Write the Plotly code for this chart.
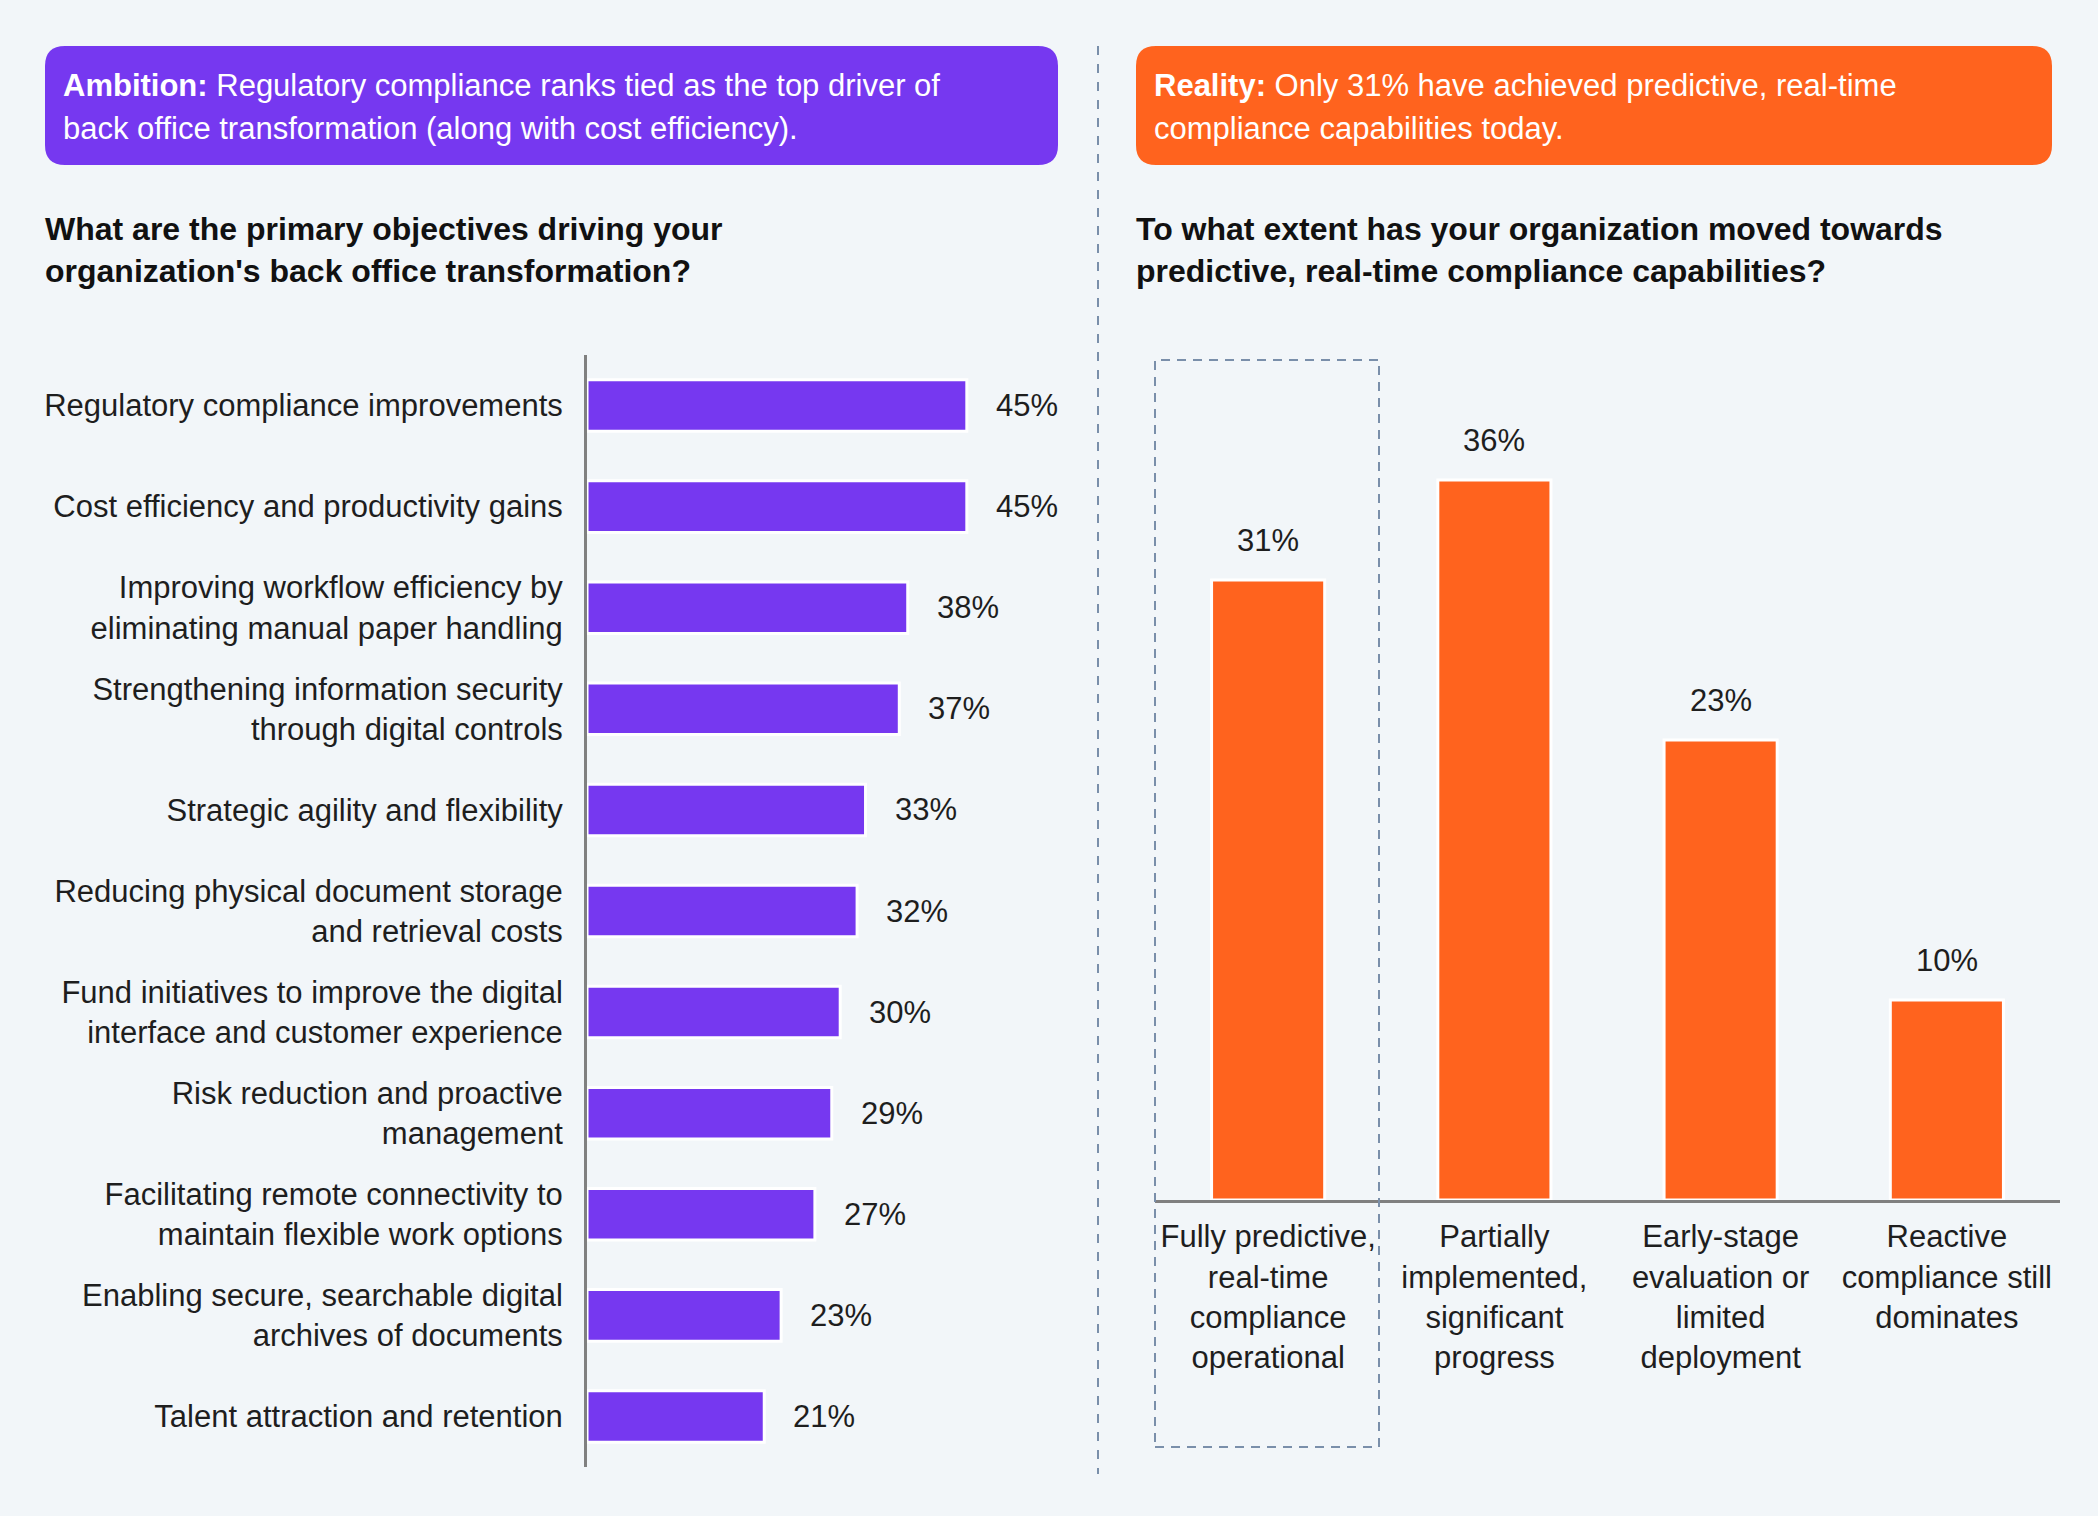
import plotly.graph_objects as go

W, H = 2098, 1516

# ---------------- data ----------------
left_categories = [
    "Regulatory compliance improvements",
    "Cost efficiency and productivity gains",
    "Improving workflow efficiency by<br>eliminating manual paper handling",
    "Strengthening information security<br>through digital controls",
    "Strategic agility and flexibility",
    "Reducing physical document storage<br>and retrieval costs",
    "Fund initiatives to improve the digital<br>interface and customer experience",
    "Risk reduction and proactive<br>management",
    "Facilitating remote connectivity to<br>maintain flexible work options",
    "Enabling secure, searchable digital<br>archives of documents",
    "Talent attraction and retention",
]
left_values = [45, 45, 38, 37, 33, 32, 30, 29, 27, 23, 21]

right_categories = [
    "Fully predictive,<br>real-time<br>compliance<br>operational",
    "Partially<br>implemented,<br>significant<br>progress",
    "Early-stage<br>evaluation or<br>limited<br>deployment",
    "Reactive<br>compliance still<br>dominates",
]
right_values = [31, 36, 23, 10]

ambition_lines = ["<b>Ambition:</b> Regulatory compliance ranks tied as the top driver of",
                  "back office transformation (along with cost efficiency)."]
reality_lines = ["<b>Reality:</b> Only 31% have achieved predictive, real-time",
                 "compliance capabilities today."]
left_title = ("<b>What are the primary objectives driving your<br>"
              "organization's back office transformation?</b>")
right_title = ("<b>To what extent has your organization moved towards<br>"
               "predictive, real-time compliance capabilities?</b>")

# ---------------- style ----------------
BG = "#F2F6F9"
PURPLE = "#7638F0"
ORANGE = "#FF631E"
GRAY = "#808080"
DASH = "#7A8FAA"
TEXT = "#1E1E1E"
FONT = "Liberation Sans, Arial, Helvetica, sans-serif"
FS = 31


def px(x):
    return x / W


def py(y):
    return 1 - y / H


fig = go.Figure()

fig.add_trace(go.Bar(
    x=left_values, y=left_categories, orientation="h",
    marker=dict(color=PURPLE, line=dict(color="white", width=3)),
    width=0.51, xaxis="x", yaxis="y", hoverinfo="skip", showlegend=False,
))
fig.add_trace(go.Bar(
    x=right_categories, y=right_values,
    marker=dict(color=ORANGE, line=dict(color="white", width=3)),
    width=0.5, xaxis="x2", yaxis="y2", hoverinfo="skip", showlegend=False,
))

annotations = []
for c, v in zip(left_categories, left_values):
    annotations.append(dict(
        x=v, y=c, xref="x", yref="y", text=f"{v}%", showarrow=False,
        xanchor="left", yanchor="middle", xshift=27,
        font=dict(family=FONT, size=FS, color=TEXT),
    ))
for c, v in zip(right_categories, right_values):
    annotations.append(dict(
        x=c, y=v, xref="x2", yref="y2", text=f"{v}%", showarrow=False,
        xanchor="center", yanchor="middle", yshift=40,
        font=dict(family=FONT, size=FS, color=TEXT),
    ))

# header box texts (one annotation per line)
for i, line in enumerate(ambition_lines):
    annotations.append(dict(
        x=px(61), y=py(86 + 43 * i), xref="paper", yref="paper", text=line,
        showarrow=False, xanchor="left", yanchor="middle", align="left",
        font=dict(family=FONT, size=FS, color="white"),
    ))
for i, line in enumerate(reality_lines):
    annotations.append(dict(
        x=px(1152), y=py(86 + 43 * i), xref="paper", yref="paper", text=line,
        showarrow=False, xanchor="left", yanchor="middle", align="left",
        font=dict(family=FONT, size=FS, color="white"),
    ))
# titles
annotations.append(dict(
    x=px(43), y=py(250), xref="paper", yref="paper", text=left_title,
    showarrow=False, xanchor="left", yanchor="middle", align="left",
    font=dict(family=FONT, size=32, color="#111111"),
))
annotations.append(dict(
    x=px(1134), y=py(250), xref="paper", yref="paper", text=right_title,
    showarrow=False, xanchor="left", yanchor="middle", align="left",
    font=dict(family=FONT, size=32, color="#111111"),
))


def rounded_rect(x0, y0, x1, y1, r):
    X0, X1 = px(x0), px(x1)
    Y0, Y1 = py(y0), py(y1)
    rx, ry = r / W, r / H
    return (f"M {X0+rx},{Y0} L {X1-rx},{Y0} Q {X1},{Y0} {X1},{Y0-ry} "
            f"L {X1},{Y1+ry} Q {X1},{Y1} {X1-rx},{Y1} "
            f"L {X0+rx},{Y1} Q {X0},{Y1} {X0},{Y1+ry} "
            f"L {X0},{Y0-ry} Q {X0},{Y0} {X0+rx},{Y0} Z")


shapes = [
    dict(type="path", xref="paper", yref="paper",
         path=rounded_rect(45, 46, 1058, 165, 20),
         fillcolor=PURPLE, line=dict(width=0), layer="below"),
    dict(type="path", xref="paper", yref="paper",
         path=rounded_rect(1136, 46, 2052, 165, 20),
         fillcolor=ORANGE, line=dict(width=0), layer="below"),
    # divider
    dict(type="line", xref="paper", yref="paper",
         x0=px(1098), x1=px(1098), y0=py(46), y1=py(1474),
         line=dict(color=DASH, width=2, dash="9px,9px")),
    # highlight box
    dict(type="rect", xref="paper", yref="paper",
         x0=px(1155), x1=px(1379), y0=py(1447), y1=py(360),
         line=dict(color=DASH, width=2, dash="9px,7px"), fillcolor="rgba(0,0,0,0)"),
]

fig.update_layout(
    width=W, height=H,
    margin=dict(l=0, r=0, t=0, b=0),
    paper_bgcolor=BG, plot_bgcolor="rgba(0,0,0,0)",
    font=dict(family=FONT, size=FS, color=TEXT),
    showlegend=False,
    annotations=annotations,
    shapes=shapes,
    xaxis=dict(domain=[px(587), px(1060)], range=[0, 56.04], visible=False,
               fixedrange=True),
    yaxis=dict(domain=[py(1467), py(355)], type="category",
               range=[10.5, -0.5], showline=True, linecolor=GRAY, linewidth=3,
               showgrid=False, zeroline=False, ticks="", ticklabelstandoff=15,
               tickfont=dict(family=FONT, size=FS, color=TEXT), anchor="x",
               fixedrange=True),
    xaxis2=dict(domain=[px(1155), px(2060)], type="category", range=[-0.5, 3.5],
                showline=True, linecolor=GRAY, linewidth=3, showgrid=False,
                zeroline=False, ticks="", ticklabelstandoff=7,
                tickfont=dict(family=FONT, size=FS, color=TEXT), anchor="y2",
                fixedrange=True),
    yaxis2=dict(domain=[py(1200), py(360)], range=[0, 42], visible=False,
                anchor="x2", fixedrange=True),
)

fig.write_html("out.html")
